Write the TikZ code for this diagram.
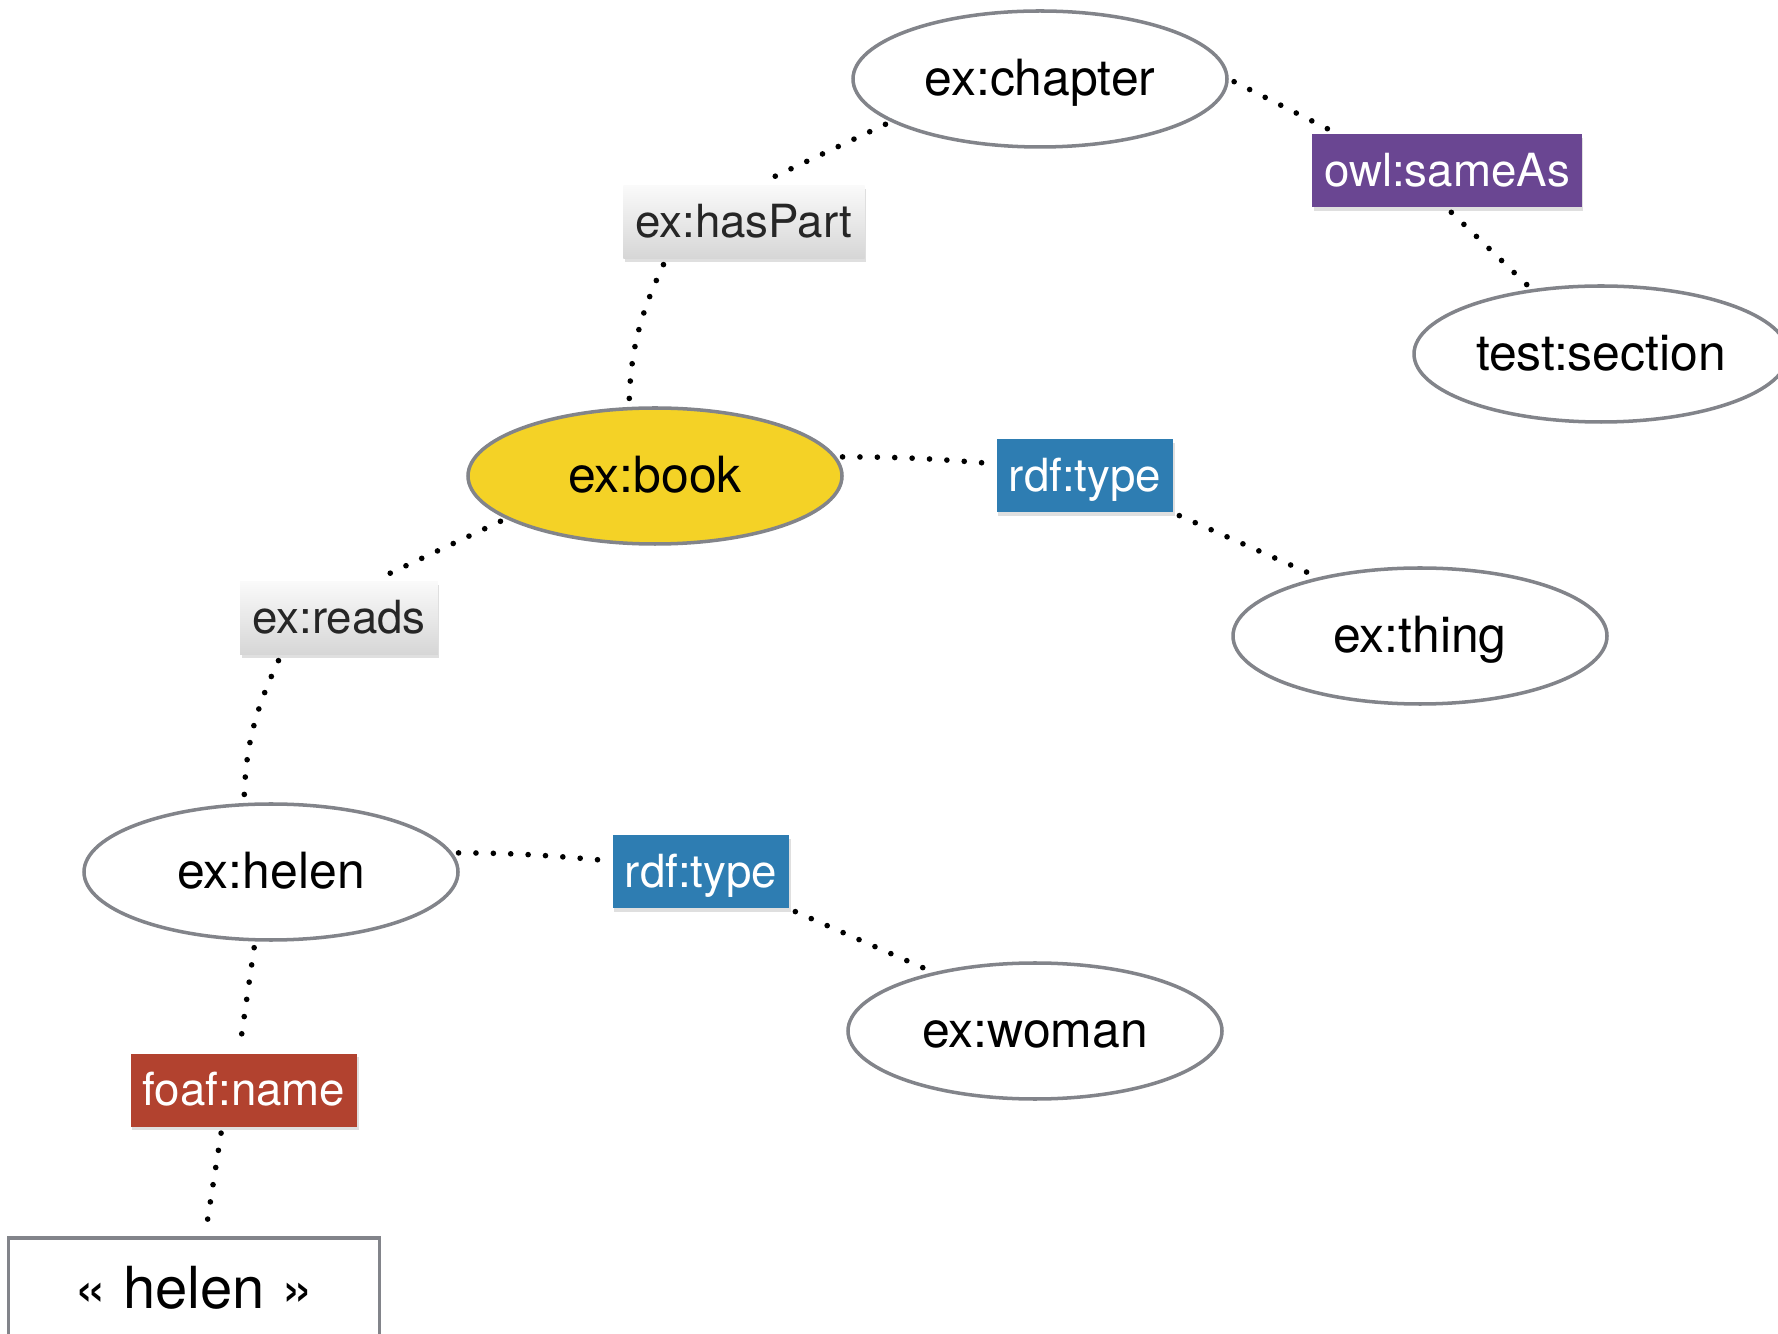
\documentclass[tikz,border=0pt]{standalone}
\usepackage{fontspec}
\setmainfont{TeX Gyre Heros}
\usepackage{xcolor}
\usetikzlibrary{shapes.geometric, positioning, shadows}
\definecolor{rdfblue}{RGB}{46,125,178}
\definecolor{owlpurple}{RGB}{106,70,146}
\definecolor{foafred}{RGB}{178,66,47}
\definecolor{bookyellow}{RGB}{244,210,38}
\definecolor{rimgray}{RGB}{130,132,138}
\tikzset{
  res/.style={ellipse, draw=rimgray, line width=1pt, fill=white,
              minimum width=3.74cm, minimum height=1.36cm, inner sep=0pt,
              text height=9.6pt, text depth=0pt,
              font=\fontsize{14.2}{17}\selectfont},
  focus/.style={res, fill=bookyellow},
  prop/.style={rectangle, minimum height=0.73cm, inner xsep=3.4pt, inner ysep=0pt,
               text height=9pt, text depth=0pt,
               font=\fontsize{13}{16}\selectfont,
               drop shadow={shadow xshift=0.4pt, shadow yshift=-0.9pt, opacity=0.25}},
  plainprop/.style={prop, top color=gray!4, bottom color=gray!32, text=black!85},
  typeprop/.style={prop, fill=rdfblue, text=white},
  sameprop/.style={prop, fill=owlpurple, text=white},
  nameprop/.style={prop, fill=foafred, text=white},
  literal/.style={rectangle, draw=rimgray, line width=1pt, fill=white,
                  minimum width=3.71cm, minimum height=1.0cm,
                  font=\fontsize{16.5}{19}\selectfont},
  link/.style={line width=1.6pt, dash pattern=on 0pt off 4.95pt, line cap=round,
               shorten <=0.06cm, shorten >=0.06cm},
}
\begin{document}
\begin{tikzpicture}[on grid]
  \useasboundingbox (0,0) rectangle (17.78,13.33);

  % Resources
  \node[focus] (book) at (6.55,8.57) {ex:book};
  \node[res, above right=3.97cm and 3.85cm of book] (chapter) {ex:chapter};
  \node[plainprop, above right=2.54cm and 0.89cm of book] (hasPart) {ex:hasPart};
  \node[sameprop, below right=0.92cm and 4.07cm of chapter] (sameAs) {owl:sameAs};
  \node[res, below right=1.83cm and 1.54cm of sameAs] (section) {test:section};

  % Types
  \node[typeprop, right=4.3cm of book] (typeA) {rdf:type};
  \node[res, below right=1.6cm and 3.35cm of typeA] (thing) {ex:thing};

  % Reader branch
  \node[plainprop, below left=1.42cm and 3.16cm of book] (reads) {ex:reads};
  \node[res, below left=2.54cm and 0.68cm of reads] (helen) {ex:helen};
  \node[typeprop, right=4.3cm of helen] (typeB) {rdf:type};
  \node[res, below right=1.59cm and 3.34cm of typeB] (woman) {ex:woman};
  \node[nameprop, below left=2.18cm and 0.27cm of helen] (foaf) {foaf:name};
  \node[literal, below left=1.98cm and 0.5cm of foaf] (lit) {« helen »};

  % Links
  \draw[link] (chapter.196) -- ([xshift=0.13cm]hasPart.north);
  \draw[link] ([xshift=-0.78cm]hasPart.south) to[out=245,in=88] ([xshift=-0.26cm]book.north);
  \draw[link] (chapter.east) -- ([xshift=0.26cm]sameAs.north west);
  \draw[link] (sameAs.south) -- (section.137);
  \draw[link] (book.6) to[out=0,in=175] ([yshift=0.12cm]typeA.west);
  \draw[link] (typeA.south east) -- (thing.150);
  \draw[link] (book.196) -- ([xshift=0.35cm]reads.north);
  \draw[link] ([xshift=-0.58cm]reads.south) to[out=245,in=88] ([xshift=-0.27cm]helen.north);
  \draw[link] (helen.6) to[out=0,in=175] ([yshift=0.11cm]typeB.west);
  \draw[link] (typeB.south east) -- (woman.150);
  \draw[link] ([xshift=-0.16cm]helen.south) -- ([xshift=-0.05cm]foaf.north);
  \draw[link] ([xshift=-0.22cm]foaf.south) -- ([xshift=0.11cm]lit.north);

\end{tikzpicture}
\end{document}
